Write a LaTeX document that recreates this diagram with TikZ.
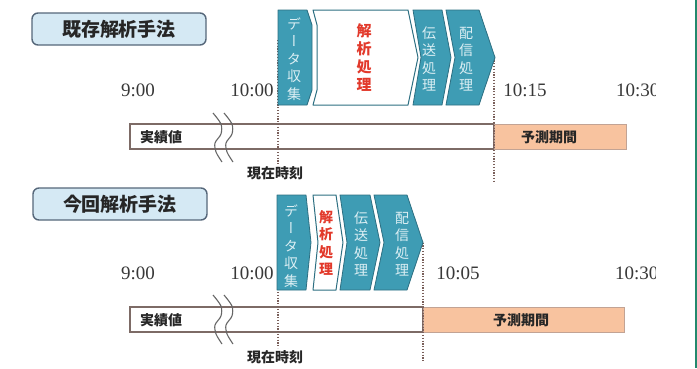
\documentclass[tikz,border=0pt]{standalone}
\usepackage{fontspec}
\setmainfont{Liberation Serif}
\newfontfamily\jp{Noto Sans CJK JP}
\newfontfamily\jpv{Noto Sans CJK JP}[RawFeature=+vert]
\definecolor{teal1}{HTML}{3E9CB4}
\definecolor{tealdark}{HTML}{2D6F82}
\definecolor{vtxt}{HTML}{DCEFF4}
\definecolor{redtxt}{HTML}{E2392B}
\definecolor{titlefill}{HTML}{D5E9F4}
\definecolor{titleborder}{HTML}{56677A}
\definecolor{barborder}{HTML}{7D6B66}
\definecolor{orangefill}{HTML}{F8C39F}
\definecolor{orangeborder}{HTML}{C2A394}
\definecolor{dotc}{HTML}{7A5F5A}
\definecolor{greenline}{HTML}{23896D}
\begin{document}
\begin{tikzpicture}[x=1pt,y=-1pt,
  titlebox/.style={draw=titleborder, line width=1.4pt, fill=titlefill, rounded corners=6pt,
    minimum width=174pt, minimum height=32pt, inner sep=0pt,
    font=\jp\bfseries\fontsize{19}{21}\selectfont, text=black!85},
  tm/.style={font=\fontsize{19}{21}\selectfont, text=black!78, inner sep=0pt},
  vt/.style={align=center, inner sep=0pt, font=\jpv\fontsize{14}{17.5}\selectfont, text=vtxt},
  vtred/.style={vt, text=redtxt, font=\jpv\bfseries\fontsize{14}{17.5}\selectfont},
  chev/.style={fill=teal1, draw=tealdark, line width=0.8pt, line join=round},
  wchev/.style={fill=white, draw=tealdark, line width=1pt, line join=round},
  bar/.style={draw=barborder, line width=1.2pt, fill=white},
  obar/.style={draw=orangeborder, line width=1pt, fill=orangefill},
  lbl/.style={font=\jp\bfseries\fontsize{14}{16}\selectfont, text=black!85, inner sep=0pt},
  dotline/.style={draw=dotc, line width=1.2pt, dash pattern=on 1.2pt off 1.6pt},
  wave/.style={draw=black!60, line width=1.1pt}]
\fill[white] (0,0) rectangle (697,368);
\useasboundingbox (0,0) rectangle (697,368);
\draw[greenline, line width=1.6pt] (696,0) -- (696,368);

%================ TOP =================
\node[titlebox] (t1) at (119,29) {既存解析手法};
\node[tm] (a900) at (138,90) {9:00};
\node[tm] (a1000) at (252,90) {10:00};
\node[tm] (a1015) at (525,90) {10:15};
\begin{scope}
  \clip (600,60) rectangle (655,120);
  \node[tm, anchor=west] (a1030) at (616,90) {10:30};
\end{scope}

% bar
\draw[bar] (130,124) rectangle (494,149);
\draw[obar] (494,124) rectangle (626,149);
\node[lbl] (act1) at (161,137) {実績値};
\node[lbl] (pred1) at (549,137) {予測期間};
% wave
\draw[wave] plot[smooth] coordinates {(213,113) (221,124) (221,134) (215,143) (216,152) (222,162)};
\draw[wave] plot[smooth] coordinates {(224,113) (232,124) (232,134) (226,143) (227,152) (233,162)};

% dotted
\coordinate (d1a) at (278,40);
\coordinate (d1b) at (278,166);
\coordinate (d2a) at (494,57.5);
\coordinate (d2b) at (494,183);
\draw[dotline] (d1a) -- (d1b);
\draw[dotline] (d2a) -- (d2b);

% chevrons
\draw[chev] (278,10) -- (307,10) -- (312,25) -- (312,90) -- (307,105) -- (278,105) -- cycle;
\draw[wchev] (313,10) -- (408,10) -- (418,57.5) -- (408,105) -- (313,105) -- (317,90) -- (317,25) -- cycle;
\draw[chev] (413,10) -- (442,10) -- (451,57.5) -- (442,105) -- (413,105) -- (421,57.5) -- cycle;
\draw[chev] (446,10) -- (479,10) -- (495,57.5) -- (479,105) -- (446,105) -- (455,57.5) -- cycle;
\node[vt] (dc1) at (294,59) {デ\\ー\\タ\\収\\集};
\node[vtred, font=\jpv\bfseries\fontsize{15}{18}\selectfont] (an1) at (364,58) {解\\析\\処\\理};
\node[vt] (tr1) at (429,59) {伝\\送\\処\\理};
\node[vt] (dl1) at (466,59) {配\\信\\処\\理};
\node[lbl] (now1) at (275,173) {現在時刻};

%================ BOTTOM =================
\node[titlebox] (t2) at (120,204) {今回解析手法};
\node[tm] (b900) at (138,273) {9:00};
\node[tm] (b1000) at (252,273) {10:00};
\node[tm] (b1005) at (458,273) {10:05};
\begin{scope}
  \clip (600,240) rectangle (655,300);
  \node[tm, anchor=west] (b1030) at (615,273) {10:30};
\end{scope}

\draw[bar] (130,307) rectangle (423,332);
\draw[obar] (423,307) rectangle (624,332);
\node[lbl] (act2) at (161,320) {実績値};
\node[lbl] (pred2) at (521,320) {予測期間};
\draw[wave] plot[smooth] coordinates {(213,295) (221,306) (221,316) (215,325) (216,334) (222,344)};
\draw[wave] plot[smooth] coordinates {(224,295) (232,306) (232,316) (226,325) (227,334) (233,344)};

\coordinate (d3a) at (278,222);
\coordinate (d3b) at (278,348);
\coordinate (d4a) at (423,242.5);
\coordinate (d4b) at (423,362);
\draw[dotline] (d3a) -- (d3b);
\draw[dotline] (d4a) -- (d4b);

\draw[chev] (277,195) -- (306,195) -- (311,242.5) -- (306,290) -- (277,290) -- cycle;
\draw[wchev] (313,195) -- (336,195) -- (343,242.5) -- (336,290) -- (313,290) -- (318,242.5) -- cycle;
\draw[chev] (340,195) -- (370,195) -- (380,242.5) -- (370,290) -- (340,290) -- (347,242.5) -- cycle;
\draw[chev] (374,195) -- (407,195) -- (423,242.5) -- (407,290) -- (374,290) -- (384,242.5) -- cycle;
\node[vt] (dc2) at (291,246) {デ\\ー\\タ\\収\\集};
\node[vtred] (an2) at (326,243) {解\\析\\処\\理};
\node[vt] (tr2) at (361,244) {伝\\送\\処\\理};
\node[vt] (dl2) at (402,244) {配\\信\\処\\理};
\node[lbl] (now2) at (275,357) {現在時刻};
\end{tikzpicture}
\end{document}
